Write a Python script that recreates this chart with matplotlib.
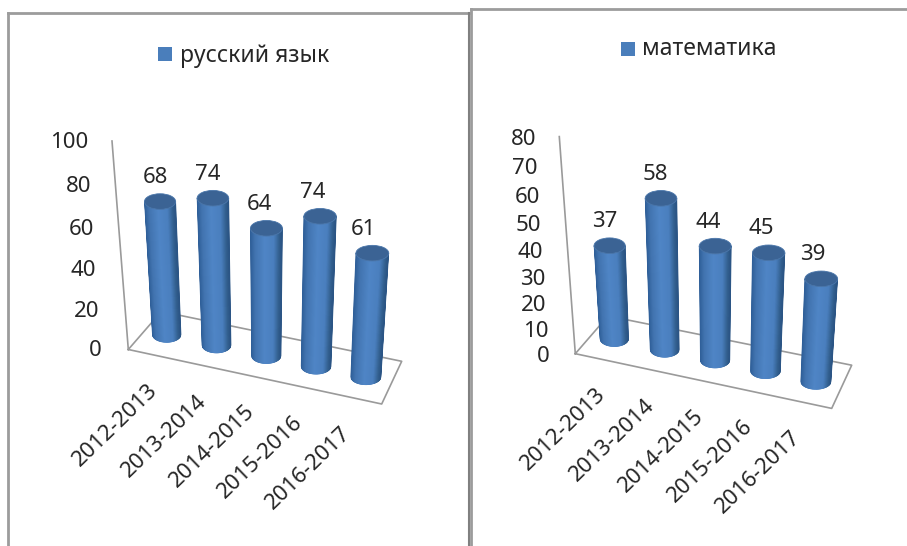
#!/usr/bin/env python3
# -*- coding: utf-8 -*-
import numpy as np
import matplotlib
matplotlib.use('Agg')
import matplotlib.pyplot as plt
from matplotlib.collections import PolyCollection
from matplotlib.colors import LinearSegmentedColormap
from matplotlib.patches import Ellipse, Rectangle

plt.rcParams['font.family'] = ['Noto Sans', 'DejaVu Sans']

years = ['2012-2013', '2013-2014', '2014-2015', '2015-2016', '2016-2017']
russian_values = [68, 74, 64, 74, 61]
russian_ticks = [0, 20, 40, 60, 80, 100]
math_values = [37, 58, 44, 45, 39]
math_ticks = [0, 10, 20, 30, 40, 50, 60, 70, 80]

FONT_SIZE = 16
LEGEND_SIZE = 16.5
TEXT_COLOR = '#262626'
GRID_COLOR = '#9a9a9a'
FRAME_COLOR = '#9c9c9c'
TOP_COLOR = '#3b6394'
LEGEND_COLOR = '#4a7ebb'

# left edge of the cylinder to the right edge
body_cmap = LinearSegmentedColormap.from_list(
    'body', [(0, '#2f5f98'), (0.15, '#4274b0'), (0.45, '#4f85c6'),
             (0.75, '#4a7fbe'), (0.92, '#33608f'), (1, '#2b5585')])

# the perspective of each chart, in pixels of the picture
russian_view = dict(bx=166.7, dbx=49.8, by=334.5, dby=10.6, a=1.86, da=0.02, b=0.000715,
                    axis_a=1.922, axis_b=0.000715,
                    floor=[(128.3, 349.5), (381.7, 404), (401.7, 361.3), (161.3, 311.5)],
                    axis_top=(112, 141), tick_x=101.7, tick_dx=0.066, tick_y=350,
                    legend=(158.3, 47, 'русский язык', 180, 56))
math_view = dict(bx=614.3, dbx=50.4, by=338.7, dby=10.7, a=2.41, da=0.027, b=0.00111,
                 axis_a=2.47, axis_b=0.00111,
                 floor=[(575.3, 353.7), (831.7, 408.4), (851.7, 365.2), (608, 316)],
                 axis_top=(559.3, 136.6), tick_x=550.0, tick_dx=0.065, tick_y=356,
                 legend=(620.7, 42, 'математика', 641.7, 49))


def project(view, i, v):
    #category i and value v to the picture
    rise = (view['a'] + view['da'] * i) * v / (1 - view['b'] * v)
    x = view['bx'] + view['dbx'] * i + rise * (-0.05 + 0.0255 * i)
    y = view['by'] + view['dby'] * i - rise
    return x, y


def draw_cylinder(ax, view, i, v):
    bx, by = project(view, i, 0)
    tx, ty = project(view, i, v)
    rb = 14.3 + 0.2 * i
    rt = 15.6 + 0.2 * i
    ry = 7.8
    t = np.linspace(-1, 1, 61)
    bottom_x = bx + rb * t
    bottom_y = by + ry * np.sqrt(1 - t ** 2)
    top_x = tx + rt * t
    top_y = ty + ry * np.sqrt(1 - t ** 2)
    strips = []
    colors = []
    for k in range(len(t) - 1):
        strips.append([(bottom_x[k], bottom_y[k]), (bottom_x[k + 1], bottom_y[k + 1]),
                       (top_x[k + 1], top_y[k + 1]), (top_x[k], top_y[k])])
        colors.append(body_cmap(k / (len(t) - 2)))
    ax.add_collection(PolyCollection(strips, facecolors=colors, edgecolors=colors, linewidths=0.5, zorder=3 + i))
    ax.add_patch(Ellipse((tx, ty), 2 * rt, 2 * ry, facecolor=TOP_COLOR, edgecolor='#4a76aa', linewidth=0.6, zorder=3 + i))


def draw_chart(ax, view, values, ticks):
    #floor and value axis
    corners = view['floor']
    xs = [c[0] for c in corners] + [corners[0][0]]
    ys = [c[1] for c in corners] + [corners[0][1]]
    ax.plot(xs, ys, color=GRID_COLOR, lw=1.2, zorder=2)
    ax.plot([corners[0][0], view['axis_top'][0]], [corners[0][1], view['axis_top'][1]], color=GRID_COLOR, lw=1.2, zorder=2)

    for tick in ticks:
        rise = view['axis_a'] * tick / (1 - view['axis_b'] * tick)
        ax.text(view['tick_x'] - view['tick_dx'] * rise, view['tick_y'] - rise, str(tick),
                ha='right', va='center', fontsize=FONT_SIZE, color=TEXT_COLOR)

    for i in range(len(values)):
        draw_cylinder(ax, view, i, values[i])
        tx, ty = project(view, i, values[i])
        ax.text(tx - 4.5 - 1.1 * i, ty - 24, str(values[i]), ha='center', va='center',
                fontsize=FONT_SIZE, color=TEXT_COLOR, zorder=10)
        bx, by = project(view, i, 0)
        ax.text(bx - 12 - 1.5 * i, by + 53, years[i], ha='right', va='center', rotation=44,
                rotation_mode='anchor', fontsize=FONT_SIZE, color=TEXT_COLOR, zorder=10)

    sq_x, sq_y, name, text_x, text_y = view['legend']
    ax.add_patch(Rectangle((sq_x, sq_y), 14, 14, facecolor=LEGEND_COLOR, edgecolor='none'))
    ax.text(text_x, text_y, name, ha='left', va='center', fontsize=LEGEND_SIZE, color=TEXT_COLOR)


fig = plt.figure(figsize=(9.07, 5.46), dpi=100)
ax = fig.add_axes([0, 0, 1, 1])
ax.set_xlim(0, 907)
ax.set_ylim(546, 0)
ax.axis('off')

#frames of the two pasted charts
ax.plot([8, 8], [546, 13], color=FRAME_COLOR, lw=2)
ax.plot([8, 469], [13, 13], color=FRAME_COLOR, lw=2)
ax.plot([469, 469], [13, 546], color='#808080', lw=1.5)
ax.plot([471, 471], [546, 9], color=FRAME_COLOR, lw=2)
ax.plot([471, 907], [9, 9], color=FRAME_COLOR, lw=2)

draw_chart(ax, russian_view, russian_values, russian_ticks)
draw_chart(ax, math_view, math_values, math_ticks)

fig.savefig('out.png', dpi=100)
